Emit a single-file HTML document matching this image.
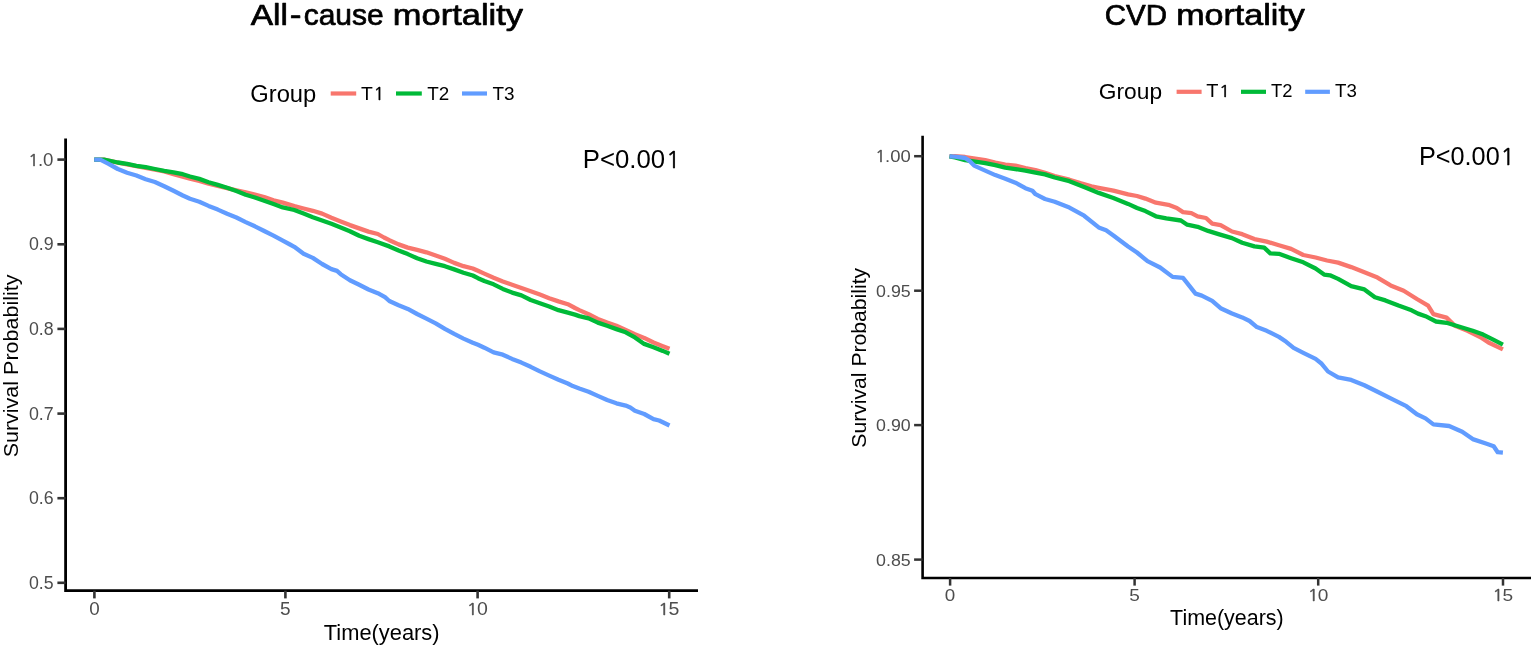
<!DOCTYPE html>
<html><head><meta charset="utf-8"><title>Kaplan-Meier curves</title>
<style>html,body{margin:0;padding:0;background:#fff;}body{width:1535px;height:647px;overflow:hidden;}svg{display:block;}</style>
</head><body>
<svg width="1535" height="647" viewBox="0 0 1535 647">
<rect width="1535" height="647" fill="#fff"/>
<text x="250.68" y="24.70" font-size="30.1" textLength="37.20" lengthAdjust="spacingAndGlyphs" fill="#000" stroke="#000" stroke-width="0.7" stroke-linejoin="round" font-family="Liberation Sans, Arial, sans-serif">All</text>
<text x="289.68" y="24.70" font-size="30.1" textLength="11.73" lengthAdjust="spacingAndGlyphs" fill="#000" stroke="#000" stroke-width="0.7" stroke-linejoin="round" font-family="Liberation Sans, Arial, sans-serif">-</text>
<text x="303.67" y="24.70" font-size="30.1" textLength="80.11" lengthAdjust="spacingAndGlyphs" fill="#000" stroke="#000" stroke-width="0.7" stroke-linejoin="round" font-family="Liberation Sans, Arial, sans-serif">cause</text>
<text x="392.86" y="24.70" font-size="30.1" textLength="130.15" lengthAdjust="spacingAndGlyphs" fill="#000" stroke="#000" stroke-width="0.7" stroke-linejoin="round" font-family="Liberation Sans, Arial, sans-serif">mortality</text>
<text x="1104.65" y="24.70" font-size="30.1" textLength="62.31" lengthAdjust="spacingAndGlyphs" fill="#000" stroke="#000" stroke-width="0.7" stroke-linejoin="round" font-family="Liberation Sans, Arial, sans-serif">CVD</text>
<text x="1176.19" y="24.70" font-size="30.1" textLength="128.73" lengthAdjust="spacingAndGlyphs" fill="#000" stroke="#000" stroke-width="0.7" stroke-linejoin="round" font-family="Liberation Sans, Arial, sans-serif">mortality</text>
<text x="250.31" y="101.50" font-size="23" textLength="65.99" lengthAdjust="spacingAndGlyphs" fill="#000" font-family="Liberation Sans, Arial, sans-serif" >Group</text>
<line x1="330.7" y1="93.5" x2="356.2" y2="93.5" stroke="#F8766D" stroke-width="4.2"/>
<text transform="translate(361.07,99.90) scale(1.0402,1)" font-size="18.6" fill="#000" font-family="Liberation Sans, Arial, sans-serif"><tspan x="0.00">T</tspan><tspan x="11.94" font-family="NanumGothic, Liberation Sans, sans-serif" font-size="17.22" stroke="#000" stroke-width="0.45">1</tspan></text>
<line x1="396" y1="93.5" x2="421.8" y2="93.5" stroke="#00BA38" stroke-width="4.2"/>
<text x="427.18" y="99.90" font-size="18.6" textLength="21.97" lengthAdjust="spacingAndGlyphs" fill="#000" font-family="Liberation Sans, Arial, sans-serif" >T2</text>
<line x1="462" y1="93.5" x2="487" y2="93.5" stroke="#619CFF" stroke-width="4.2"/>
<text x="492.58" y="99.90" font-size="18.6" textLength="22.06" lengthAdjust="spacingAndGlyphs" fill="#000" font-family="Liberation Sans, Arial, sans-serif" >T3</text>
<text x="1098.86" y="98.50" font-size="22.5" textLength="63.20" lengthAdjust="spacingAndGlyphs" fill="#000" font-family="Liberation Sans, Arial, sans-serif" >Group</text>
<line x1="1176.6" y1="91.8" x2="1201.6" y2="91.8" stroke="#F8766D" stroke-width="4.2"/>
<text transform="translate(1206.25,96.90) scale(1.0973,1)" font-size="18.2" fill="#000" font-family="Liberation Sans, Arial, sans-serif"><tspan x="0.00">T</tspan><tspan x="11.69" font-family="NanumGothic, Liberation Sans, sans-serif" font-size="16.85" stroke="#000" stroke-width="0.45">1</tspan></text>
<line x1="1241" y1="91.8" x2="1266" y2="91.8" stroke="#00BA38" stroke-width="4.2"/>
<text x="1271.09" y="96.90" font-size="18.2" textLength="21.44" lengthAdjust="spacingAndGlyphs" fill="#000" font-family="Liberation Sans, Arial, sans-serif" >T2</text>
<line x1="1305.2" y1="91.8" x2="1329.9" y2="91.8" stroke="#619CFF" stroke-width="4.2"/>
<text x="1334.98" y="96.90" font-size="18.2" textLength="21.84" lengthAdjust="spacingAndGlyphs" fill="#000" font-family="Liberation Sans, Arial, sans-serif" >T3</text>
<path d="M65.6,138.5 V590.7 H698" fill="none" stroke="#000" stroke-width="2.8" stroke-linecap="butt" stroke-linejoin="miter"/>
<line x1="57.39999999999999" y1="159.6" x2="65.6" y2="159.6" stroke="#333" stroke-width="2.6"/>
<text transform="translate(27.56,165.60) scale(1.0673,1)" font-size="17.5" fill="#4D4D4D" font-family="Liberation Sans, Arial, sans-serif"><tspan x="0.55" font-family="NanumGothic, Liberation Sans, sans-serif" font-size="16.20" stroke="#4D4D4D" stroke-width="0.45">1</tspan><tspan x="9.73">.</tspan><tspan x="14.59">0</tspan></text>
<line x1="57.39999999999999" y1="244.3" x2="65.6" y2="244.3" stroke="#333" stroke-width="2.6"/>
<text x="28.90" y="250.30" font-size="17.5" textLength="24.74" lengthAdjust="spacingAndGlyphs" fill="#4D4D4D" font-family="Liberation Sans, Arial, sans-serif" >0.9</text>
<line x1="57.39999999999999" y1="328.9" x2="65.6" y2="328.9" stroke="#333" stroke-width="2.6"/>
<text x="28.91" y="334.90" font-size="17.5" textLength="24.66" lengthAdjust="spacingAndGlyphs" fill="#4D4D4D" font-family="Liberation Sans, Arial, sans-serif" >0.8</text>
<line x1="57.39999999999999" y1="413.6" x2="65.6" y2="413.6" stroke="#333" stroke-width="2.6"/>
<text x="28.90" y="419.60" font-size="17.5" textLength="24.79" lengthAdjust="spacingAndGlyphs" fill="#4D4D4D" font-family="Liberation Sans, Arial, sans-serif" >0.7</text>
<line x1="57.39999999999999" y1="498.2" x2="65.6" y2="498.2" stroke="#333" stroke-width="2.6"/>
<text x="28.91" y="504.20" font-size="17.5" textLength="24.67" lengthAdjust="spacingAndGlyphs" fill="#4D4D4D" font-family="Liberation Sans, Arial, sans-serif" >0.6</text>
<line x1="57.39999999999999" y1="582.8" x2="65.6" y2="582.8" stroke="#333" stroke-width="2.6"/>
<text x="28.91" y="588.80" font-size="17.5" textLength="24.64" lengthAdjust="spacingAndGlyphs" fill="#4D4D4D" font-family="Liberation Sans, Arial, sans-serif" >0.5</text>
<line x1="94.4" y1="590.7" x2="94.4" y2="598.4" stroke="#333" stroke-width="2.6"/>
<text x="89.16" y="614.90" font-size="17.5" textLength="10.47" lengthAdjust="spacingAndGlyphs" fill="#4D4D4D" font-family="Liberation Sans, Arial, sans-serif" >0</text>
<line x1="285.4" y1="590.7" x2="285.4" y2="598.4" stroke="#333" stroke-width="2.6"/>
<text x="280.14" y="614.90" font-size="17.5" textLength="10.56" lengthAdjust="spacingAndGlyphs" fill="#4D4D4D" font-family="Liberation Sans, Arial, sans-serif" >5</text>
<line x1="477.6" y1="590.7" x2="477.6" y2="598.4" stroke="#333" stroke-width="2.6"/>
<text transform="translate(466.07,614.90) scale(1.1141,1)" font-size="17.5" fill="#4D4D4D" font-family="Liberation Sans, Arial, sans-serif"><tspan x="0.55" font-family="NanumGothic, Liberation Sans, sans-serif" font-size="16.20" stroke="#4D4D4D" stroke-width="0.45">1</tspan><tspan x="9.73">0</tspan></text>
<line x1="669.2" y1="590.7" x2="669.2" y2="598.4" stroke="#333" stroke-width="2.6"/>
<text transform="translate(657.67,614.90) scale(1.1175,1)" font-size="17.5" fill="#4D4D4D" font-family="Liberation Sans, Arial, sans-serif"><tspan x="0.55" font-family="NanumGothic, Liberation Sans, sans-serif" font-size="16.20" stroke="#4D4D4D" stroke-width="0.45">1</tspan><tspan x="9.73">5</tspan></text>
<path d="M922.6,135.8 V578 H1531" fill="none" stroke="#000" stroke-width="2.6" stroke-linecap="butt" stroke-linejoin="miter"/>
<line x1="914.1" y1="156.2" x2="922.6" y2="156.2" stroke="#333" stroke-width="2.5"/>
<text transform="translate(874.79,162.20) scale(1.0734,1)" font-size="17.2" fill="#4D4D4D" font-family="Liberation Sans, Arial, sans-serif"><tspan x="0.54" font-family="NanumGothic, Liberation Sans, sans-serif" font-size="15.93" stroke="#4D4D4D" stroke-width="0.45">1</tspan><tspan x="9.57">.</tspan><tspan x="14.34">0</tspan><tspan x="23.91">0</tspan></text>
<line x1="914.1" y1="290.7" x2="922.6" y2="290.7" stroke="#333" stroke-width="2.5"/>
<text x="876.10" y="296.70" font-size="17.2" textLength="34.64" lengthAdjust="spacingAndGlyphs" fill="#4D4D4D" font-family="Liberation Sans, Arial, sans-serif" >0.95</text>
<line x1="914.1" y1="425.1" x2="922.6" y2="425.1" stroke="#333" stroke-width="2.5"/>
<text x="876.11" y="431.10" font-size="17.2" textLength="34.59" lengthAdjust="spacingAndGlyphs" fill="#4D4D4D" font-family="Liberation Sans, Arial, sans-serif" >0.90</text>
<line x1="914.1" y1="559.6" x2="922.6" y2="559.6" stroke="#333" stroke-width="2.5"/>
<text x="876.10" y="565.60" font-size="17.2" textLength="34.64" lengthAdjust="spacingAndGlyphs" fill="#4D4D4D" font-family="Liberation Sans, Arial, sans-serif" >0.85</text>
<line x1="950.1" y1="578" x2="950.1" y2="585.5999999999999" stroke="#333" stroke-width="2.5"/>
<text x="944.86" y="601.40" font-size="17.2" textLength="10.47" lengthAdjust="spacingAndGlyphs" fill="#4D4D4D" font-family="Liberation Sans, Arial, sans-serif" >0</text>
<line x1="1134.6" y1="578" x2="1134.6" y2="585.5999999999999" stroke="#333" stroke-width="2.5"/>
<text x="1129.34" y="601.40" font-size="17.2" textLength="10.56" lengthAdjust="spacingAndGlyphs" fill="#4D4D4D" font-family="Liberation Sans, Arial, sans-serif" >5</text>
<line x1="1318.2" y1="578" x2="1318.2" y2="585.5999999999999" stroke="#333" stroke-width="2.5"/>
<text transform="translate(1307.12,601.40) scale(1.1094,1)" font-size="17.2" fill="#4D4D4D" font-family="Liberation Sans, Arial, sans-serif"><tspan x="0.54" font-family="NanumGothic, Liberation Sans, sans-serif" font-size="15.93" stroke="#4D4D4D" stroke-width="0.45">1</tspan><tspan x="9.57">0</tspan></text>
<line x1="1503" y1="578" x2="1503" y2="585.5999999999999" stroke="#333" stroke-width="2.5"/>
<text transform="translate(1491.91,601.40) scale(1.1128,1)" font-size="17.2" fill="#4D4D4D" font-family="Liberation Sans, Arial, sans-serif"><tspan x="0.54" font-family="NanumGothic, Liberation Sans, sans-serif" font-size="15.93" stroke="#4D4D4D" stroke-width="0.45">1</tspan><tspan x="9.57">5</tspan></text>
<polyline points="94.2,159.7 103.9,159.7 117.8,162.7 136.4,166.2 164.2,171.4 173.5,174.1 190.0,178.7 199.3,181.0 208.6,183.6 217.8,185.9 227.1,188.2 236.4,190.3 245.7,192.4 254.9,194.7 264.2,197.0 273.5,200.3 282.8,202.6 294.3,206.1 303.6,208.5 312.8,210.8 322.1,213.6 331.4,217.7 340.7,221.4 349.9,225.1 359.2,228.4 368.5,231.6 377.8,234.0 384.0,237.5 389.3,240.2 398.6,244.4 407.8,247.6 417.1,249.9 426.4,252.3 435.7,255.5 444.9,258.8 454.2,262.9 463.5,266.2 472.8,268.5 478.0,270.8 484.3,273.6 493.6,277.8 502.8,281.5 512.1,284.7 521.4,288.0 530.7,291.2 539.9,294.5 549.2,298.2 558.5,301.4 567.8,304.2 575.0,308.0 579.3,310.1 588.6,314.2 597.8,318.9 607.1,322.6 616.4,325.8 625.7,330.0 634.9,334.2 644.2,337.9 653.5,342.5 662.8,346.2 669.5,348.8" fill="none" stroke="#F8766D" stroke-width="4.3" stroke-linejoin="round" stroke-linecap="butt"/>
<polyline points="94.2,159.7 103.9,159.7 117.8,162.5 127.1,163.9 136.4,165.8 145.7,167.2 154.9,169.0 164.2,170.9 173.5,172.3 182.8,174.2 190.0,176.5 199.3,178.9 208.6,182.2 217.8,184.9 227.1,187.7 236.4,191.0 245.7,194.7 254.9,197.5 264.2,200.7 273.5,204.0 282.8,207.4 294.3,210.0 303.6,213.6 312.8,217.3 322.1,220.5 331.4,223.8 340.7,227.5 349.9,231.2 359.2,235.8 368.5,239.1 377.8,242.3 389.3,246.4 398.6,250.4 407.8,254.1 417.1,258.3 426.4,261.5 435.7,263.9 444.9,266.2 454.2,269.4 463.5,272.7 472.8,275.5 478.0,278.2 484.3,281.0 493.6,284.3 502.8,288.9 512.1,292.6 521.4,295.4 530.7,300.0 539.9,303.3 549.2,306.5 558.5,310.2 567.8,312.6 575.0,314.6 579.3,316.1 588.6,318.4 597.8,322.6 607.1,325.8 616.4,329.1 625.7,332.3 634.9,337.4 644.2,343.9 653.5,347.2 662.8,350.9 669.5,353.8" fill="none" stroke="#00BA38" stroke-width="4.3" stroke-linejoin="round" stroke-linecap="butt"/>
<polyline points="94.2,159.7 100.2,159.7 108.6,163.9 117.8,169.0 127.1,172.7 136.4,175.5 145.7,179.2 154.9,182.0 164.2,186.2 173.5,190.8 182.8,195.5 190.0,198.8 199.3,201.7 208.6,205.9 217.8,209.6 227.1,213.8 236.4,217.5 245.7,222.1 254.9,226.3 264.2,231.0 273.5,235.6 282.8,240.7 290.0,244.5 294.3,246.8 303.6,253.8 312.8,257.9 322.1,264.0 331.4,269.1 337.0,270.9 340.7,274.2 349.9,280.2 359.2,284.8 368.5,289.5 377.8,293.2 385.0,297.2 389.3,301.0 398.6,305.2 407.8,308.9 417.1,314.0 426.4,318.6 435.7,323.3 444.9,328.8 454.2,333.9 463.5,338.6 472.8,342.7 478.0,344.8 484.3,347.7 493.6,352.4 502.8,354.7 512.1,358.9 521.4,362.6 530.7,366.8 539.9,371.4 549.2,375.6 558.5,379.7 567.8,383.5 572.8,386.1 579.3,388.5 588.6,391.7 597.8,395.9 607.1,400.0 616.4,403.3 625.7,405.6 630.3,407.5 634.9,410.7 644.2,414.0 653.5,419.1 659.1,420.5 662.8,422.3 669.5,425.5" fill="none" stroke="#619CFF" stroke-width="4.3" stroke-linejoin="round" stroke-linecap="butt"/>
<polyline points="949.5,156.3 955.0,156.2 965.1,157.0 975.2,158.6 985.2,160.1 995.3,162.6 1005.3,164.6 1015.4,165.6 1025.4,168.1 1035.5,170.1 1045.0,172.8 1054.7,176.0 1069.4,179.7 1081.1,183.4 1091.4,186.3 1098.7,187.8 1113.4,190.7 1128.1,194.4 1137.0,196.0 1145.4,198.6 1155.9,202.7 1168.4,204.8 1176.8,208.0 1183.0,212.1 1191.4,213.2 1197.6,216.3 1206.0,218.0 1212.2,223.6 1220.6,225.1 1232.0,231.5 1242.2,234.2 1254.4,239.1 1266.7,241.6 1278.9,245.2 1291.1,248.9 1303.3,255.0 1315.6,257.5 1327.0,260.5 1338.1,262.6 1351.2,267.1 1364.4,272.3 1377.5,277.6 1390.6,285.4 1403.7,290.7 1416.9,299.0 1428.1,305.7 1433.4,314.1 1446.5,317.6 1454.4,325.4 1467.5,330.7 1480.6,337.2 1488.5,342.5 1502.9,349.4" fill="none" stroke="#F8766D" stroke-width="4.3" stroke-linejoin="round" stroke-linecap="butt"/>
<polyline points="949.5,156.3 955.0,157.5 965.1,160.1 975.2,161.6 985.2,163.1 995.3,165.1 1005.3,167.6 1015.4,169.1 1025.4,170.6 1035.5,172.6 1045.0,174.4 1054.7,177.5 1069.4,181.2 1084.1,187.0 1098.7,192.9 1113.4,198.0 1128.1,203.9 1137.0,208.0 1145.4,211.1 1155.9,216.3 1166.3,218.4 1180.9,220.5 1187.2,224.7 1197.6,226.8 1208.1,230.9 1218.5,234.1 1232.0,238.1 1242.2,242.8 1254.4,246.4 1264.2,247.7 1270.3,253.3 1278.9,253.8 1291.1,258.2 1303.3,262.3 1315.6,268.5 1324.1,274.6 1330.0,275.3 1338.1,278.9 1351.2,286.2 1364.4,289.4 1374.9,297.2 1385.4,300.4 1398.5,305.6 1411.6,310.3 1418.0,313.6 1425.5,316.2 1436.0,321.5 1446.5,322.8 1459.6,326.7 1472.7,330.7 1483.2,334.6 1493.7,339.9 1502.9,344.6" fill="none" stroke="#00BA38" stroke-width="4.3" stroke-linejoin="round" stroke-linecap="butt"/>
<polyline points="949.5,156.3 955.0,156.6 965.1,158.0 969.1,160.6 974.1,165.6 985.2,170.6 995.3,175.1 1005.3,178.7 1015.4,182.7 1025.4,188.2 1032.4,190.7 1035.5,194.2 1045.0,199.0 1054.7,201.7 1069.4,207.6 1084.1,215.7 1098.7,227.4 1106.1,230.3 1113.4,235.5 1128.1,246.5 1137.0,252.5 1147.5,261.2 1160.1,267.5 1172.6,276.9 1183.0,277.9 1187.2,283.1 1195.5,293.6 1201.8,295.6 1212.2,300.9 1220.6,308.2 1232.0,313.5 1242.2,317.4 1249.6,321.0 1256.9,327.1 1266.7,330.8 1278.9,336.9 1286.2,341.8 1293.6,347.9 1303.3,352.8 1315.6,358.9 1321.7,363.8 1328.0,371.5 1338.1,377.3 1351.2,379.9 1364.4,385.2 1377.5,391.7 1393.2,399.6 1406.4,406.2 1416.9,414.3 1425.5,418.4 1433.4,424.4 1449.1,426.0 1462.2,431.7 1472.7,439.1 1485.9,443.5 1493.7,446.2 1497.7,452.2 1502.9,452.7" fill="none" stroke="#619CFF" stroke-width="4.3" stroke-linejoin="round" stroke-linecap="butt"/>
<text transform="translate(582.79,168.30) scale(1.0107,1)" font-size="25.5" fill="#000" font-family="Liberation Sans, Arial, sans-serif"><tspan x="0.00">P</tspan><tspan x="17.01">&lt;</tspan><tspan x="31.90">0</tspan><tspan x="46.08">.</tspan><tspan x="53.17">0</tspan><tspan x="67.35">0</tspan><tspan x="82.33" font-family="NanumGothic, Liberation Sans, sans-serif" font-size="23.61" stroke="#000" stroke-width="0.45">1</tspan></text>
<text transform="translate(1419.03,164.70) scale(1.0091,1)" font-size="25" fill="#000" font-family="Liberation Sans, Arial, sans-serif"><tspan x="0.00">P</tspan><tspan x="16.67">&lt;</tspan><tspan x="31.27">0</tspan><tspan x="45.18">.</tspan><tspan x="52.12">0</tspan><tspan x="66.03">0</tspan><tspan x="80.71" font-family="NanumGothic, Liberation Sans, sans-serif" font-size="23.15" stroke="#000" stroke-width="0.45">1</tspan></text>
<text x="323.81" y="639.60" font-size="21.7" textLength="115.73" lengthAdjust="spacingAndGlyphs" fill="#000" font-family="Liberation Sans, Arial, sans-serif" >Time(years)</text>
<text x="1170.12" y="625.40" font-size="21.3" textLength="113.60" lengthAdjust="spacingAndGlyphs" fill="#000" font-family="Liberation Sans, Arial, sans-serif" >Time(years)</text>
<text transform="translate(18.4,0) rotate(-90)" x="-457.38" y="0" font-size="20.8" textLength="182.82" lengthAdjust="spacingAndGlyphs" fill="#000" font-family="Liberation Sans, Arial, sans-serif">Survival Probability</text>
<text transform="translate(866.4,0) rotate(-90)" x="-447.66" y="0" font-size="20.5" textLength="179.80" lengthAdjust="spacingAndGlyphs" fill="#000" font-family="Liberation Sans, Arial, sans-serif">Survival Probability</text>
</svg>
</body></html>
